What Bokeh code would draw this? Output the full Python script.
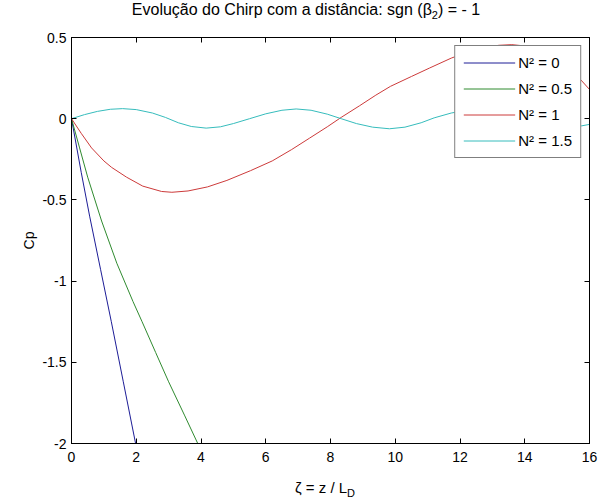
from bokeh.plotting import figure
from bokeh.layouts import column
from bokeh.models import (Legend, LegendItem, LinearAxis, FixedTicker,
                          CustomJSTickFormatter, Range1d, Div)
from bokeh.embed import file_html
from bokeh.resources import INLINE

# Chirp parameter Cp versus normalised distance zeta, one series per N^2
zeta_n0 = [0, 0.3, 0.56, 0.9, 1.23, 1.6, 1.98]
cp_n0 = [0, -0.33, -0.6, -0.93, -1.25, -1.62, -2.0]

zeta_n05 = [0, 0.25, 0.5, 0.93, 1.4, 1.9, 2.18, 2.6, 3.0, 3.5, 3.9]
cp_n05 = [0, -0.18, -0.36, -0.63, -0.89, -1.126, -1.25, -1.44, -1.62, -1.83, -2.0]

zeta_n1 = [0, 0.3, 0.62, 1.0, 1.24, 1.7, 2.2, 2.78, 3.1, 3.6, 4.2, 4.8, 5.53,
           6.2, 6.8, 7.35, 7.9, 8.33, 8.9, 9.4, 9.85, 10.5, 11.06, 11.73,
           12.3, 12.8, 13.2, 13.6, 14.0, 14.5, 15.0, 15.4, 15.72, 16.0]
cp_n1 = [0, -0.09, -0.18, -0.26, -0.30, -0.36, -0.415, -0.448, -0.453, -0.445,
         -0.42, -0.38, -0.32, -0.26, -0.19, -0.12, -0.05, 0.008, 0.08, 0.145,
         0.199, 0.26, 0.312, 0.373, 0.415, 0.44, 0.452, 0.456, 0.448, 0.415,
         0.36, 0.30, 0.242, 0.18]

zeta_n15 = [0, 0.4, 0.8, 1.2, 1.58, 2.0, 2.5, 2.9, 3.3, 3.7, 4.16, 4.6, 5.0,
            5.5, 6.0, 6.5, 6.94, 7.4, 7.9, 8.33, 8.8, 9.3, 9.82, 10.3, 10.8,
            11.2, 11.73, 12.3, 12.8, 13.3, 13.8, 14.3, 14.8, 15.2, 15.6, 16.0]
cp_n15 = [0, 0.025, 0.045, 0.058, 0.062, 0.056, 0.035, 0.008, -0.025, -0.048,
          -0.058, -0.05, -0.03, 0.0, 0.03, 0.052, 0.06, 0.052, 0.028, 0.0,
          -0.03, -0.052, -0.062, -0.052, -0.025, 0.005, 0.035, 0.055, 0.05,
          0.028, 0.0, -0.028, -0.048, -0.055, -0.05, -0.035]

x_ticks = [0, 2, 4, 6, 8, 10, 12, 14, 16]
y_ticks = [-2, -1.5, -1, -0.5, 0, 0.5]

legend_labels = ["N² = 0", "N² = 0.5", "N² = 1", "N² = 1.5"]
colors = ["#1c1c96", "#2f8a2f", "#cc3a3a", "#36bcbc"]

FONT = "Liberation Sans"

# title strip (HTML, so that beta can carry a real subscript)
title = Div(
    text=('<div style="padding-left:48px;width:564px;padding-top:1px;'
          'text-align:center;font-family:\'Liberation Sans\';font-size:16px;'
          'line-height:18px;color:black;white-space:nowrap;">'
          'Evolução do Chirp com a distância: sgn (β<sub style="font-size:11px;'
          'line-height:0;">2</sub>) = - 1</div>'),
    width=612, height=30, margin=(0, 0, 0, 0))

p = figure(width=612, height=448, output_backend="svg", toolbar_location=None,
           x_range=Range1d(0, 16), y_range=Range1d(-2, 0.5),
           min_border_left=71, min_border_right=23, min_border_top=7,
           min_border_bottom=35, background_fill_color="white",
           border_fill_color="white", margin=(0, 0, 0, 0))

p.xgrid.visible = False
p.ygrid.visible = False
p.outline_line_color = "black"
p.outline_line_width = 1

fmt = CustomJSTickFormatter(code="return tick.toString();")


def style_axis(ax, ticks, show_labels):
    ax.ticker = FixedTicker(ticks=ticks)
    ax.formatter = fmt
    ax.major_tick_in = 5
    ax.major_tick_out = 0
    ax.minor_tick_line_color = None
    ax.axis_line_color = "black"
    ax.major_tick_line_color = "black"
    ax.major_label_text_font = FONT
    if show_labels:
        ax.major_label_text_font_size = "14px"
        ax.major_label_text_color = "black"
    else:
        # tick marks only on the mirrored box sides
        ax.major_label_text_font_size = "1px"
        ax.major_label_text_color = None
        ax.major_label_standoff = 0


style_axis(p.xaxis[0], x_ticks, True)
p.xaxis[0].major_label_standoff = 8
style_axis(p.yaxis[0], y_ticks, True)
p.yaxis[0].major_label_standoff = 5
p.yaxis[0].axis_label = "Cp"
p.yaxis[0].axis_label_text_font = FONT
p.yaxis[0].axis_label_text_font_size = "14px"
p.yaxis[0].axis_label_text_font_style = "normal"
p.yaxis[0].axis_label_text_color = "black"
p.yaxis[0].axis_label_standoff = 2

top_axis = LinearAxis()
style_axis(top_axis, x_ticks, False)
p.add_layout(top_axis, "above")
right_axis = LinearAxis()
style_axis(right_axis, y_ticks, False)
p.add_layout(right_axis, "right")

series = [(zeta_n0, cp_n0), (zeta_n05, cp_n05), (zeta_n1, cp_n1), (zeta_n15, cp_n15)]
renderers = []
for (zs, cs), col in zip(series, colors):
    renderers.append(p.line(zs, cs, line_color=col, line_width=1))

legend = Legend(items=[LegendItem(label=lab, renderers=[r])
                       for lab, r in zip(legend_labels, renderers)],
                location="top_right", margin=8, padding=8, spacing=9,
                glyph_width=52, glyph_height=17, label_height=17,
                label_standoff=3, label_text_font=FONT,
                label_text_font_size="15px", label_text_color="black",
                border_line_color="black", border_line_width=1,
                background_fill_color="white", background_fill_alpha=1)
p.add_layout(legend)

# x-axis title with a subscript D, set as a text strip under the plot
xlabel = Div(
    text=('<div style="position:relative;left:295px;top:2px;'
          'font-family:\'Liberation Sans\';font-size:15px;line-height:16px;'
          'color:black;white-space:nowrap;">'
          'ζ = z / L<sub style="font-size:11px;line-height:0;">D</sub></div>'),
    width=612, height=20, margin=(0, 0, 0, 0))

layout = column(title, p, xlabel, spacing=0, margin=(0, 0, 0, 0))

open("out.html", "w").write(file_html(layout, INLINE))
